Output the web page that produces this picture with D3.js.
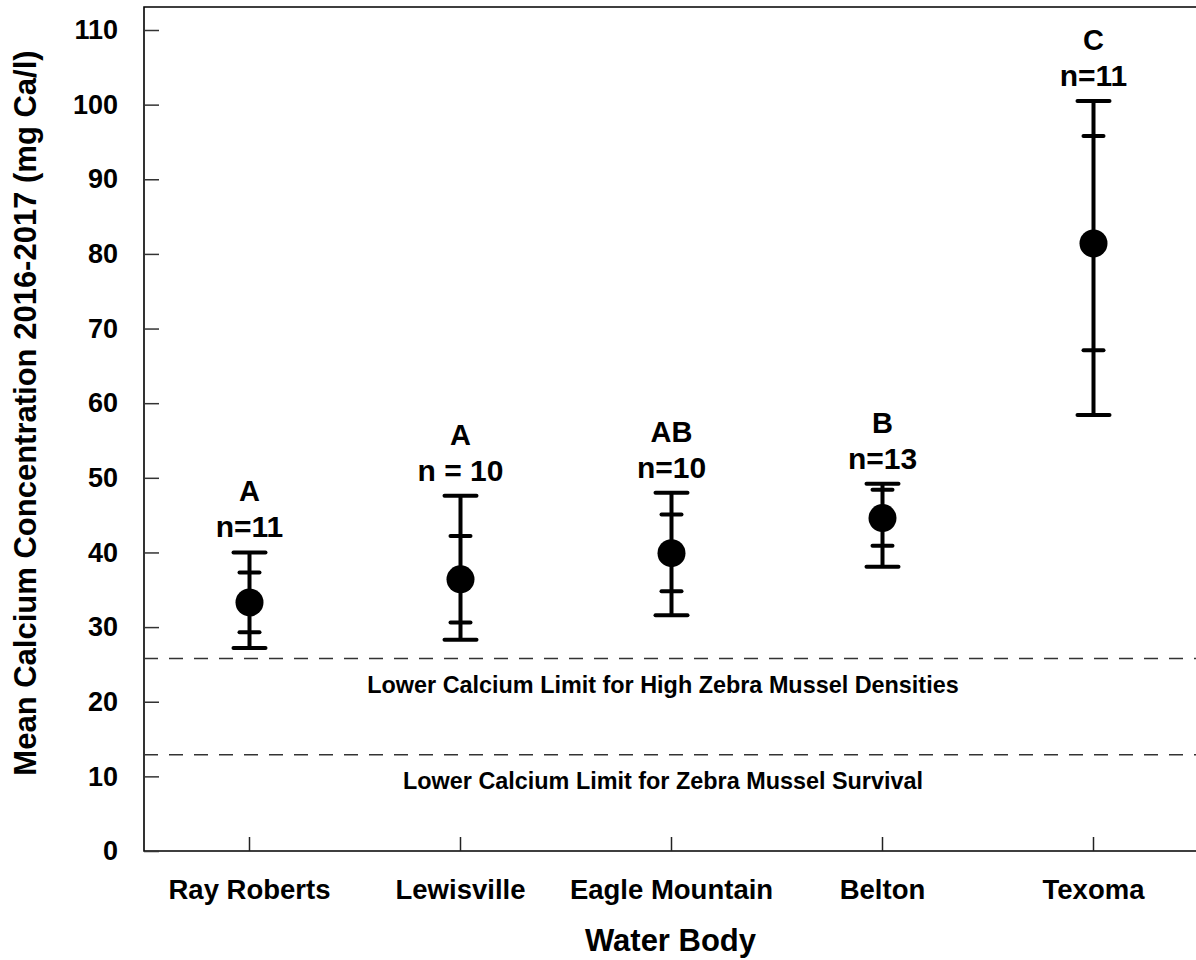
<!DOCTYPE html>
<html>
<head>
<meta charset="utf-8">
<script src="https://cdn.jsdelivr.net/npm/d3@7"></script>
<style>
  body { margin: 0; background: #fff; }
  text { font-family: "Liberation Sans", Arial, sans-serif; font-weight: bold; fill: #000; }
</style>
</head>
<body>
<svg id="chart" width="1196" height="960"></svg>
<script>
// values
const categories = ['Ray Roberts', 'Lewisville', 'Eagle Mountain', 'Belton', 'Texoma'];
const means = [33.3, 36.4, 39.9, 44.6, 81.4];
const innerHigh = [37.3, 42.2, 45.1, 48.4, 95.8];
const innerLow = [29.3, 30.6, 34.8, 40.9, 67.1];
const upper = [40.0, 47.6, 48.0, 49.2, 100.5];
const lower = [27.2, 28.3, 31.6, 38.1, 58.4];
const groups = ['A', 'A', 'AB', 'B', 'C'];
const nLabels = ['n=11', 'n = 10', 'n=10', 'n=13', 'n=11'];
const yTicks = [0, 10, 20, 30, 40, 50, 60, 70, 80, 90, 100, 110];
const limits = [25.8, 12.9];
const limitLabels = ['Lower Calcium Limit for High Zebra Mussel Densities', 'Lower Calcium Limit for Zebra Mussel Survival'];

const data = categories.map((c, i) => ({
  cat: c, mean: means[i], hi: innerHigh[i], lo: innerLow[i],
  up: upper[i], down: lower[i], group: groups[i], n: nLabels[i]
}));

const svg = d3.select('#chart');
const mLeft = 144, mRight = 1199, mTop = 7, mBottom = 851;

const x = d3.scaleBand().domain(categories).range([mLeft, mRight]).padding(0);
const y = d3.scaleLinear().domain([0, 110]).range([mBottom, 30]);
const cx = d => x(d.cat) + x.bandwidth() / 2;

// frame: left, top, bottom
svg.append('path')
  .attr('d', `M${mRight},${mTop}H${mLeft}V${mBottom}H${mRight}`)
  .attr('fill', 'none')
  .attr('stroke', '#000')
  .attr('stroke-width', 1.6);

// y axis, ticks pointing inwards
svg.append('g')
  .attr('transform', `translate(${mLeft},0)`)
  .call(d3.axisLeft(y).tickValues(yTicks).tickSizeInner(-15).tickSizeOuter(0).tickPadding(26))
  .call(g => g.select('.domain').remove())
  .call(g => g.selectAll('line').attr('stroke', '#333').attr('stroke-width', 1.5))
  .call(g => g.selectAll('text').style('font-size', '27px').attr('font-family', null));

// x axis, ticks pointing up
svg.append('g')
  .attr('transform', `translate(0,${mBottom})`)
  .call(d3.axisBottom(x).tickSizeInner(-14).tickSizeOuter(0).tickPadding(28))
  .call(g => g.select('.domain').remove())
  .call(g => g.selectAll('line').attr('stroke', '#222').attr('stroke-width', 1.5))
  .call(g => g.selectAll('text').style('font-size', '27.5px').attr('font-family', null));

// dashed limit lines
svg.selectAll('.limit')
  .data(limits)
  .enter()
  .append('line')
  .attr('x1', mLeft)
  .attr('x2', 1196)
  .attr('y1', d => y(d))
  .attr('y2', d => y(d))
  .attr('stroke', '#333')
  .attr('stroke-width', 1.4)
  .attr('stroke-dasharray', '14,11');

svg.selectAll('.limitLabel')
  .data(limitLabels)
  .enter()
  .append('text')
  .attr('x', 663)
  .attr('y', (d, i) => y(limits[i]) + 34.5)
  .attr('text-anchor', 'middle')
  .style('font-size', '23.4px')
  .text(d => d);

// error bars
const bars = svg.selectAll('.bar')
  .data(data)
  .enter()
  .append('g');

bars.append('line')
  .attr('x1', cx).attr('x2', cx)
  .attr('y1', d => y(d.up)).attr('y2', d => y(d.down))
  .attr('stroke', '#000').attr('stroke-width', 4);

// outer caps
['up', 'down'].forEach(k => {
  bars.append('line')
    .attr('x1', d => cx(d) - 16).attr('x2', d => cx(d) + 16)
    .attr('y1', d => y(d[k])).attr('y2', d => y(d[k]))
    .attr('stroke', '#000').attr('stroke-width', 4).attr('stroke-linecap', 'round');
});

// inner ticks
['hi', 'lo'].forEach(k => {
  bars.append('line')
    .attr('x1', d => cx(d) - 10).attr('x2', d => cx(d) + 10)
    .attr('y1', d => y(d[k])).attr('y2', d => y(d[k]))
    .attr('stroke', '#000').attr('stroke-width', 4).attr('stroke-linecap', 'round');
});

bars.append('circle')
  .attr('cx', cx)
  .attr('cy', d => y(d.mean))
  .attr('r', 14)
  .attr('fill', '#000');

// n and group letters above the bars
bars.append('text')
  .attr('x', cx)
  .attr('y', d => y(d.up) - 15)
  .attr('text-anchor', 'middle')
  .style('font-size', '30px')
  .text(d => d.n);

bars.append('text')
  .attr('x', cx)
  .attr('y', d => y(d.up) - 51)
  .attr('text-anchor', 'middle')
  .style('font-size', '29px')
  .text(d => d.group);

// axis titles
svg.append('text')
  .attr('x', (mLeft + mRight) / 2 - 1)
  .attr('y', 951)
  .attr('text-anchor', 'middle')
  .style('font-size', '31px')
  .text('Water Body');

svg.append('text')
  .attr('transform', 'translate(36,413) rotate(-90)')
  .attr('text-anchor', 'middle')
  .style('font-size', '31px')
  .text('Mean Calcium Concentration 2016-2017 (mg Ca/l)');
</script>
</body>
</html>
